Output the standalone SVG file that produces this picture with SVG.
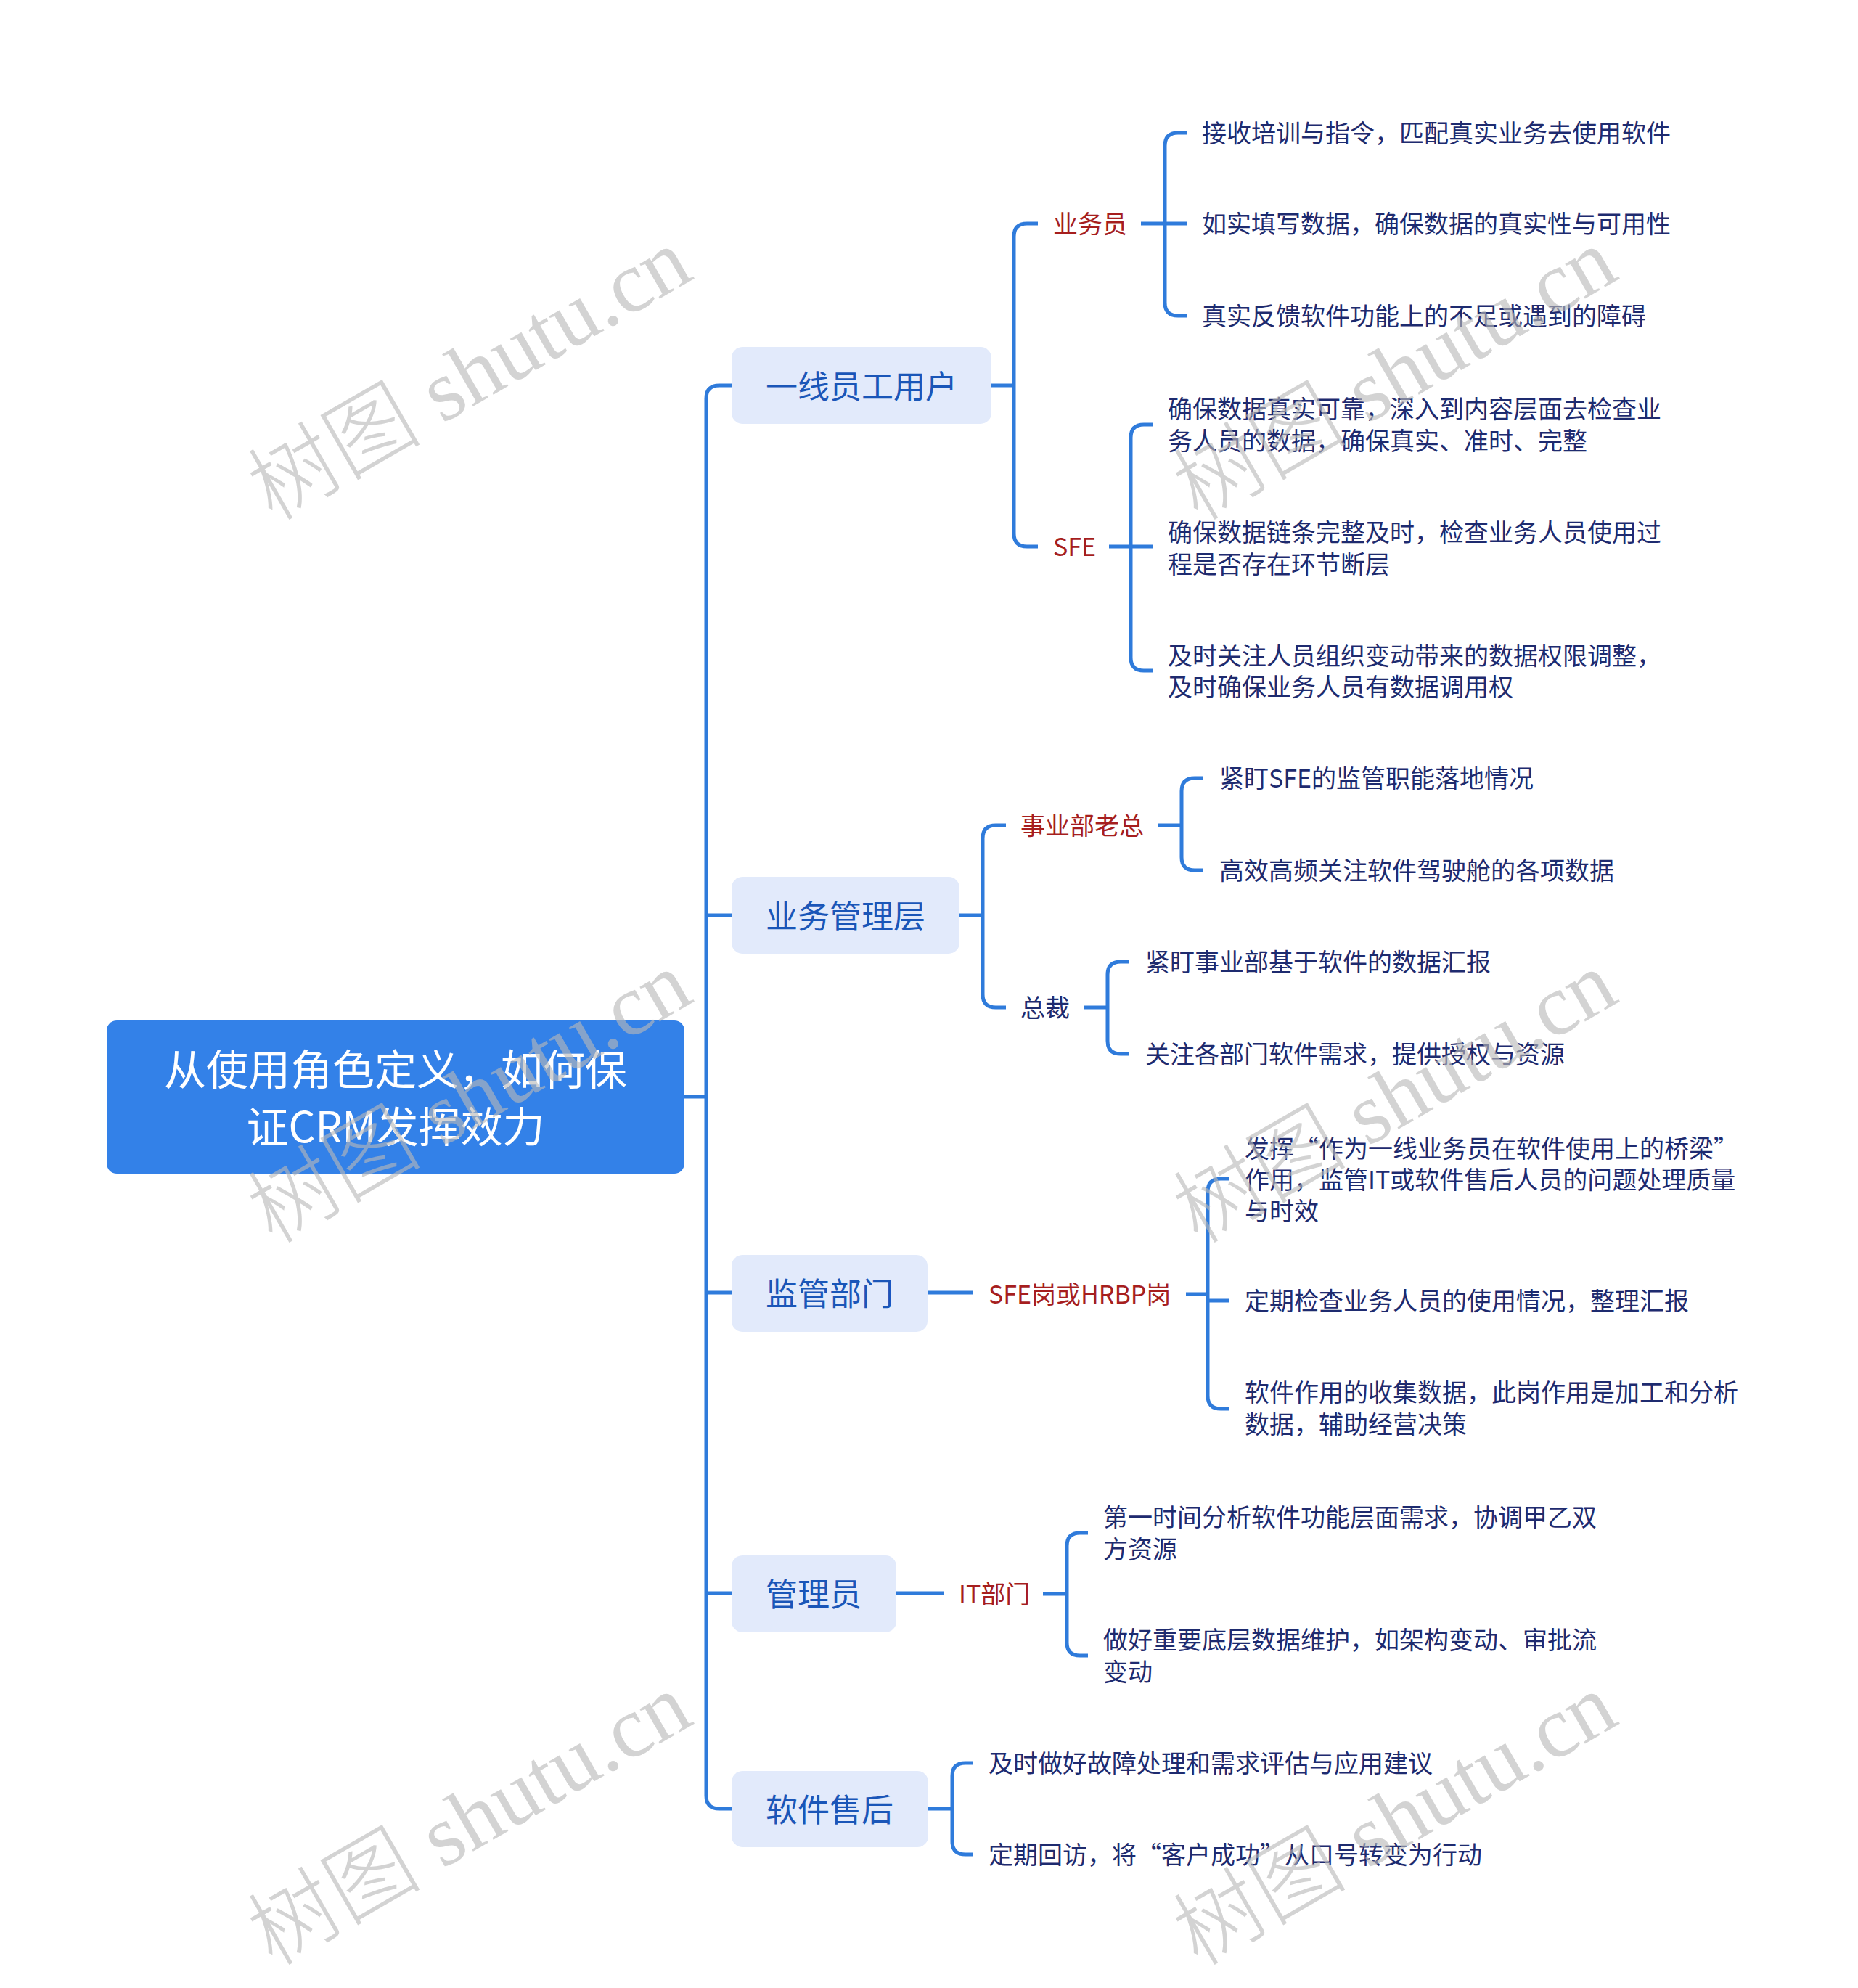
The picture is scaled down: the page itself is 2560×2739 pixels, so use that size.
<svg xmlns="http://www.w3.org/2000/svg" width="2560" height="2739" viewBox="0 0 2560 2739">
<style>
.conn{fill:none;stroke:#2F7BDB;stroke-width:5}
.l1box{fill:#E2EAFB}
.t{font-family:"Noto Sans CJK SC","Noto Sans",sans-serif;dominant-baseline:central}
.root{font-size:58px;fill:#FFFFFF;text-anchor:middle}
.l1t{font-size:44px;fill:#1A56B8}
.red{font-size:34px;fill:#A61E1E}
.leaf{font-size:34px;fill:#1E2B6F}
.wm{font-family:"Liberation Serif","Noto Sans CJK SC",serif;font-size:120px;font-weight:300;fill:#B9B9B9;opacity:0.62}
</style>
<rect width="2560" height="2739" fill="#FFFFFF"/>
<g id="connectors">
<path class="conn" d="M943 1511H973"/>
<path class="conn" d="M1008 531H991Q973 531 973 549V2474Q973 2492 991 2492H1008"/>
<path class="conn" d="M973 1261H1008M973 1781H1008M973 2195H1008"/>
<path class="conn" d="M1366 531H1397"/>
<path class="conn" d="M1430 308H1415Q1397 308 1397 326V735Q1397 753 1415 753H1430"/>
<path class="conn" d="M1572 308H1636"/>
<path class="conn" d="M1636 183H1623Q1605 183 1605 201V417Q1605 435 1623 435H1636"/>
<path class="conn" d="M1528 753H1589"/>
<path class="conn" d="M1589 585H1576Q1558 585 1558 603V906Q1558 924 1576 924H1589"/>
<path class="conn" d="M1322 1261H1354"/>
<path class="conn" d="M1386 1137H1372Q1354 1137 1354 1155V1370Q1354 1388 1372 1388H1386"/>
<path class="conn" d="M1596 1137H1628"/>
<path class="conn" d="M1658 1072H1646Q1628 1072 1628 1090V1181Q1628 1199 1646 1199H1658"/>
<path class="conn" d="M1494 1388H1526"/>
<path class="conn" d="M1556 1325H1544Q1526 1325 1526 1343V1434Q1526 1452 1544 1452H1556"/>
<path class="conn" d="M1278 1781H1340"/>
<path class="conn" d="M1634 1783H1664M1664 1792H1693"/>
<path class="conn" d="M1693 1624H1682Q1664 1624 1664 1642V1923Q1664 1941 1682 1941H1693"/>
<path class="conn" d="M1235 2195H1300"/>
<path class="conn" d="M1437 2196H1470"/>
<path class="conn" d="M1499 2112H1488Q1470 2112 1470 2130V2263Q1470 2281 1488 2281H1499"/>
<path class="conn" d="M1279 2492H1312"/>
<path class="conn" d="M1341 2429H1330Q1312 2429 1312 2447V2537Q1312 2555 1330 2555H1341"/>
</g>
<g id="root">
<rect x="147" y="1406" width="796" height="211" rx="14" fill="#3381E8"/>
<text class="t root" x="545" y="1470">从使用角色定义，如何保</text>
<text class="t root" x="545" y="1549">证CRM发挥效力</text>
</g>
<g id="n1">
<rect class="l1box" x="1008" y="478" width="358" height="106" rx="15"/>
<text class="t l1t" x="1055" y="530">一线员工用户</text>
</g>
<g id="n1a"><text class="t red" x="1451" y="306">业务员</text></g>
<g id="n1a1"><text class="t leaf" x="1656" y="181">接收培训与指令，匹配真实业务去使用软件</text></g>
<g id="n1a2"><text class="t leaf" x="1656" y="306">如实填写数据，确保数据的真实性与可用性</text></g>
<g id="n1a3"><text class="t leaf" x="1656" y="433">真实反馈软件功能上的不足或遇到的障碍</text></g>
<g id="n1b"><text class="t red" x="1451" y="751">SFE</text></g>
<g id="n1b1"><text class="t leaf"><tspan x="1609" y="561">确保数据真实可靠，深入到内容层面去检查业</tspan><tspan x="1609" y="605">务人员的数据，确保真实、准时、完整</tspan></text></g>
<g id="n1b2"><text class="t leaf"><tspan x="1609" y="731">确保数据链条完整及时，检查业务人员使用过</tspan><tspan x="1609" y="775">程是否存在环节断层</tspan></text></g>
<g id="n1b3"><text class="t leaf"><tspan x="1609" y="901">及时关注人员组织变动带来的数据权限调整，</tspan><tspan x="1609" y="944">及时确保业务人员有数据调用权</tspan></text></g>
<g id="n2">
<rect class="l1box" x="1008" y="1208" width="314" height="106" rx="15"/>
<text class="t l1t" x="1055" y="1260">业务管理层</text>
</g>
<g id="n2a"><text class="t red" x="1406" y="1135">事业部老总</text></g>
<g id="n2a1"><text class="t leaf" x="1680" y="1070">紧盯SFE的监管职能落地情况</text></g>
<g id="n2a2"><text class="t leaf" x="1680" y="1197">高效高频关注软件驾驶舱的各项数据</text></g>
<g id="n2b"><text class="t leaf" x="1406" y="1386">总裁</text></g>
<g id="n2b1"><text class="t leaf" x="1578" y="1323">紧盯事业部基于软件的数据汇报</text></g>
<g id="n2b2"><text class="t leaf" x="1578" y="1450">关注各部门软件需求，提供授权与资源</text></g>
<g id="n3">
<rect class="l1box" x="1008" y="1729" width="270" height="106" rx="15"/>
<text class="t l1t" x="1055" y="1780">监管部门</text>
</g>
<g id="n3a"><text class="t red" x="1362" y="1781">SFE岗或HRBP岗</text></g>
<g id="n3a1"><text class="t leaf"><tspan x="1715" y="1580">发挥“作为一线业务员在软件使用上的桥梁”</tspan><tspan x="1715" y="1623">作用，监管IT或软件售后人员的问题处理质量</tspan><tspan x="1715" y="1666">与时效</tspan></text></g>
<g id="n3a2"><text class="t leaf" x="1715" y="1790">定期检查业务人员的使用情况，整理汇报</text></g>
<g id="n3a3"><text class="t leaf"><tspan x="1715" y="1916">软件作用的收集数据，此岗作用是加工和分析</tspan><tspan x="1715" y="1960">数据，辅助经营决策</tspan></text></g>
<g id="n4">
<rect class="l1box" x="1008" y="2143" width="227" height="106" rx="15"/>
<text class="t l1t" x="1055" y="2194">管理员</text>
</g>
<g id="n4a"><text class="t red" x="1321" y="2194">IT部门</text></g>
<g id="n4a1"><text class="t leaf"><tspan x="1520" y="2088">第一时间分析软件功能层面需求，协调甲乙双</tspan><tspan x="1520" y="2132">方资源</tspan></text></g>
<g id="n4a2"><text class="t leaf"><tspan x="1520" y="2257">做好重要底层数据维护，如架构变动、审批流</tspan><tspan x="1520" y="2301">变动</tspan></text></g>
<g id="n5">
<rect class="l1box" x="1008" y="2440" width="271" height="105" rx="15"/>
<text class="t l1t" x="1055" y="2491">软件售后</text>
</g>
<g id="n5a"><text class="t leaf" x="1362" y="2427">及时做好故障处理和需求评估与应用建议</text></g>
<g id="n5b"><text class="t leaf" x="1362" y="2553">定期回访，将“客户成功”从口号转变为行动</text></g>
<g id="watermarks">
<text class="wm" text-anchor="middle" transform="translate(667,551) rotate(-30)">树图 shutu.cn</text>
<text class="wm" text-anchor="middle" transform="translate(1942,551) rotate(-30)">树图 shutu.cn</text>
<text class="wm" text-anchor="middle" transform="translate(667,1547) rotate(-30)">树图 shutu.cn</text>
<text class="wm" text-anchor="middle" transform="translate(1942,1547) rotate(-30)">树图 shutu.cn</text>
<text class="wm" text-anchor="middle" transform="translate(667,2542) rotate(-30)">树图 shutu.cn</text>
<text class="wm" text-anchor="middle" transform="translate(1942,2542) rotate(-30)">树图 shutu.cn</text>
</g>
</svg>
